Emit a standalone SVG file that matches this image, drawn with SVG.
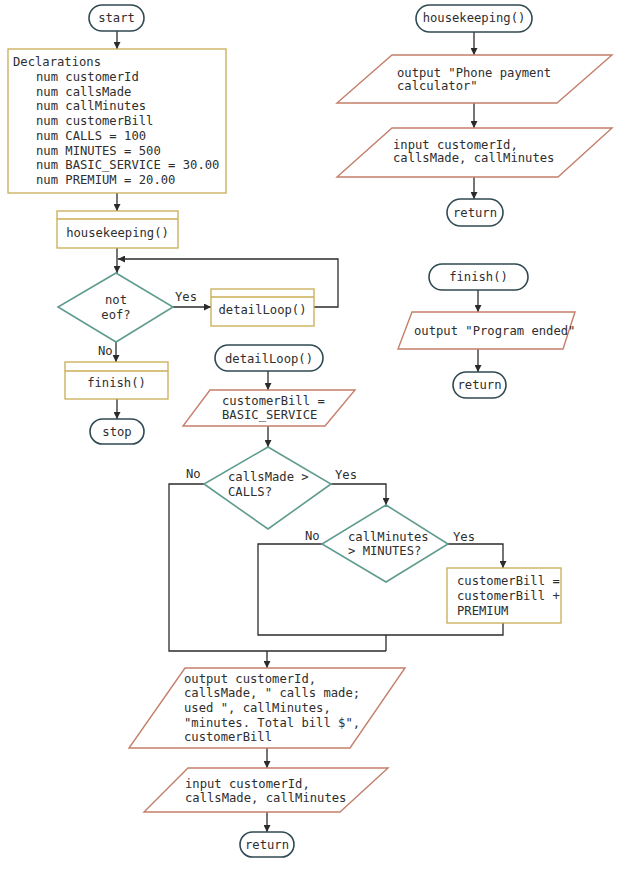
<svg xmlns="http://www.w3.org/2000/svg" width="619" height="869" viewBox="0 0 619 869">
<defs>
<marker id="arr" viewBox="0 0 10 10" refX="10" refY="5" markerWidth="7" markerHeight="7" markerUnits="userSpaceOnUse" orient="auto">
<path d="M0,0 L10,5 L0,10 z" fill="#2b2b2b"/>
</marker>
<style>
text{font-family:"DejaVu Sans Mono","Liberation Mono",monospace;font-size:12.2px;fill:#2e2e2e}
.c{text-anchor:middle}
.term{fill:#fff;stroke:#2f4a52;stroke-width:1.6}
.proc{fill:#fff;stroke:#c9ac55;stroke-width:1.3}
.io{fill:#fff;stroke:#c47f6a;stroke-width:1.4}
.dec{fill:#fff;stroke:#5f9c8f;stroke-width:1.6}
.ln{fill:none;stroke:#2b2b2b;stroke-width:1.3}
.a{marker-end:url(#arr)}
</style>
</defs>
<rect width="619" height="869" fill="#fff"/>

<g id="connectors">
<path class="ln a" d="M117,31 V49"/>
<path class="ln a" d="M117,193 V211"/>
<path class="ln a" d="M117,248 V273"/>
<path class="ln a" d="M314,307 H338 V259 H118"/>
<path class="ln a" d="M173,307 H211"/>
<path class="ln a" d="M116,342 V362"/>
<path class="ln a" d="M117,399 V419"/>
<path class="ln a" d="M474,32 V55"/>
<path class="ln a" d="M474,103 V128"/>
<path class="ln a" d="M474,177 V199"/>
<path class="ln a" d="M478,290 V312"/>
<path class="ln a" d="M478,349 V372"/>
<path class="ln a" d="M268,371 V390"/>
<path class="ln a" d="M268,426 V447"/>
<path class="ln" d="M204,484 H169 V651 H386"/>
<path class="ln a" d="M331,484 H386 V505"/>
<path class="ln" d="M322,544 H258 V635 H503 V623"/>
<path class="ln a" d="M448,544 H503 V568"/>
<path class="ln" d="M386,635 V651"/>
<path class="ln a" d="M267,651 V668"/>
<path class="ln a" d="M267,748 V768"/>
<path class="ln a" d="M267,812 V832"/>
<text x="175" y="301">Yes</text>
<text x="98" y="355">No</text>
<text x="186" y="478">No</text>
<text x="335" y="479">Yes</text>
<text x="305" y="540">No</text>
<text x="453" y="541">Yes</text>
</g>

<g id="start">
<rect class="term" x="89" y="5" width="55" height="26" rx="13"/>
<text class="c" x="116.5" y="22">start</text>
</g>

<g id="declarations">
<rect class="proc" x="8" y="49" width="218" height="144"/>
<text x="13" y="66">Declarations</text>
<text x="36" y="81">num customerId</text>
<text x="36" y="96">num callsMade</text>
<text x="36" y="110">num callMinutes</text>
<text x="36" y="125">num customerBill</text>
<text x="36" y="140">num CALLS = 100</text>
<text x="36" y="155">num MINUTES = 500</text>
<text x="36" y="169">num BASIC_SERVICE = 30.00</text>
<text x="36" y="184">num PREMIUM = 20.00</text>
</g>

<g id="housekeeping-call">
<rect class="proc" x="57" y="211" width="121" height="37"/>
<line class="proc" x1="57" y1="219" x2="178" y2="219"/>
<text class="c" x="117.5" y="237">housekeeping()</text>
</g>

<g id="not-eof">
<polygon class="dec" points="116,273 173,307 116,342 58,307"/>
<text class="c" x="116" y="304">not</text>
<text class="c" x="116" y="319">eof?</text>
</g>

<g id="detailLoop-call">
<rect class="proc" x="211" y="289" width="103" height="37"/>
<line class="proc" x1="211" y1="297" x2="314" y2="297"/>
<text class="c" x="262.5" y="314">detailLoop()</text>
</g>

<g id="finish-call">
<rect class="proc" x="65" y="362" width="103" height="37"/>
<line class="proc" x1="65" y1="371" x2="168" y2="371"/>
<text class="c" x="116.5" y="387">finish()</text>
</g>

<g id="stop">
<rect class="term" x="90" y="419" width="54" height="25" rx="12.5"/>
<text class="c" x="117" y="436">stop</text>
</g>

<g id="housekeeping">
<rect class="term" x="416" y="5" width="116" height="27" rx="13.5"/>
<text class="c" x="474" y="22">housekeeping()</text>
</g>

<g id="output-phone">
<polygon class="io" points="392,55 612,55 557,103 337,103"/>
<text x="397" y="77">output "Phone payment</text>
<text x="397" y="90">calculator"</text>
</g>

<g id="input-hk">
<polygon class="io" points="392,128 612,128 558,177 337,177"/>
<text x="393" y="149">input customerId,</text>
<text x="393" y="162">callsMade, callMinutes</text>
</g>

<g id="return-hk">
<rect class="term" x="447" y="199" width="56" height="27" rx="13.5"/>
<text class="c" x="475" y="217">return</text>
</g>

<g id="finish">
<rect class="term" x="429" y="264" width="99" height="26" rx="13"/>
<text class="c" x="478.5" y="281">finish()</text>
</g>

<g id="output-ended">
<polygon class="io" points="412,312 575,312 563,349 398,349"/>
<text x="414" y="335">output "Program ended"</text>
</g>

<g id="return-finish">
<rect class="term" x="453" y="372" width="53" height="26" rx="13"/>
<text class="c" x="479.5" y="389">return</text>
</g>

<g id="detailLoop">
<rect class="term" x="215" y="345" width="108" height="26" rx="13"/>
<text class="c" x="269" y="363">detailLoop()</text>
</g>

<g id="basic-service">
<polygon class="io" points="210,390 355,390 325,426 183,426"/>
<text x="222" y="405">customerBill =</text>
<text x="222" y="419">BASIC_SERVICE</text>
</g>

<g id="calls-decision">
<polygon class="dec" points="268,447 331,484 268,529 204,484"/>
<text x="228" y="481">callsMade &gt;</text>
<text x="228" y="496">CALLS?</text>
</g>

<g id="minutes-decision">
<polygon class="dec" points="386,505 448,544 386,582 322,544"/>
<text x="348" y="541">callMinutes</text>
<text x="348" y="555">&gt; MINUTES?</text>
</g>

<g id="premium">
<rect class="proc" x="447" y="568" width="114" height="55"/>
<text x="457" y="585">customerBill =</text>
<text x="457" y="600">customerBill +</text>
<text x="457" y="615">PREMIUM</text>
</g>

<g id="output-bill">
<polygon class="io" points="185,668 405,668 350,748 129,748"/>
<text x="184" y="683">output customerId,</text>
<text x="184" y="697">callsMade, " calls made;</text>
<text x="184" y="712">used ", callMinutes,</text>
<text x="184" y="727">"minutes. Total bill $",</text>
<text x="184" y="741">customerBill</text>
</g>

<g id="input-loop">
<polygon class="io" points="188,768 388,768 340,812 144,812"/>
<text x="185" y="788">input customerId,</text>
<text x="185" y="802">callsMade, callMinutes</text>
</g>

<g id="return-loop">
<rect class="term" x="240" y="832" width="54" height="25" rx="12.5"/>
<text class="c" x="267" y="849">return</text>
</g>
</svg>
